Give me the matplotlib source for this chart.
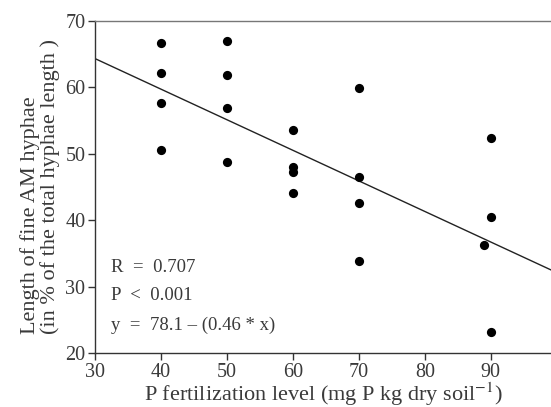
import numpy as np
import matplotlib
matplotlib.use("Agg")
import matplotlib.pyplot as plt

# P fertilization level and fine AM hyphae share (%)
p_level = [40, 40, 40, 40,
           50, 50, 50, 50,
           60, 60, 60, 60,
           70, 70, 70, 70,
           90, 90, 89, 90]
fine_hyphae = [66.7, 62.1, 57.6, 50.5,
               66.9, 61.9, 56.8, 48.8,
               53.5, 48.0, 47.2, 44.0,
               59.8, 46.5, 42.6, 33.8,
               52.4, 40.4, 36.2, 23.1]

intercept = 78.1
slope = -0.46
stats_lines = ["R  =  0.707", "P  <  0.001", "y  =  78.1 \u2013 (0.46 * x)"]

plt.rcParams['font.family'] = ['Liberation Serif', 'DejaVu Serif']
plt.rcParams['mathtext.fontset'] = 'stix'
txt = '#3a3a3a'

fig = plt.figure(figsize=(5.51, 4.07), dpi=100)
ax = fig.add_axes([95/551, 1 - 353/407, 1 - 95/551 + 0.002, (353 - 20.7)/407])

ax.scatter(p_level, fine_hyphae, s=44, color='black', zorder=3, linewidths=0)

xs = np.array([30, 100])
ax.plot(xs, intercept + slope*xs, color='#222222', lw=1.0)

ax.set_xlim(30, 99.3)
ax.set_ylim(20, 70)
ax.set_xticks([30, 40, 50, 60, 70, 80, 90])
ax.set_yticks([20, 30, 40, 50, 60, 70])

for s in ['left', 'bottom', 'top']:
    ax.spines[s].set_linewidth(1.0)
    ax.spines[s].set_color('#333333')
ax.spines['top'].set_color('#777777')
ax.spines['right'].set_visible(False)

ax.tick_params(direction='out', length=5, width=1.0, colors='#333333',
               labelsize=14.5, labelcolor=txt, pad=2)

ax.set_xlabel("P fertilization level (mg P kg dry soil$^{-1}$)", fontsize=16,
              color=txt, labelpad=-1)
ax.set_ylabel("Length of fine AM hyphae\n(in % of the total hyphae length )",
              fontsize=16, color=txt, labelpad=4, linespacing=0.95,
              multialignment='left')

for i, line in enumerate(stats_lines):
    ax.text(111/551, 1 - (267 + 29*i)/407, line, transform=fig.transFigure,
            fontsize=13.5, color=txt, va='center', ha='left')

fig.savefig("out.png", dpi=100)
